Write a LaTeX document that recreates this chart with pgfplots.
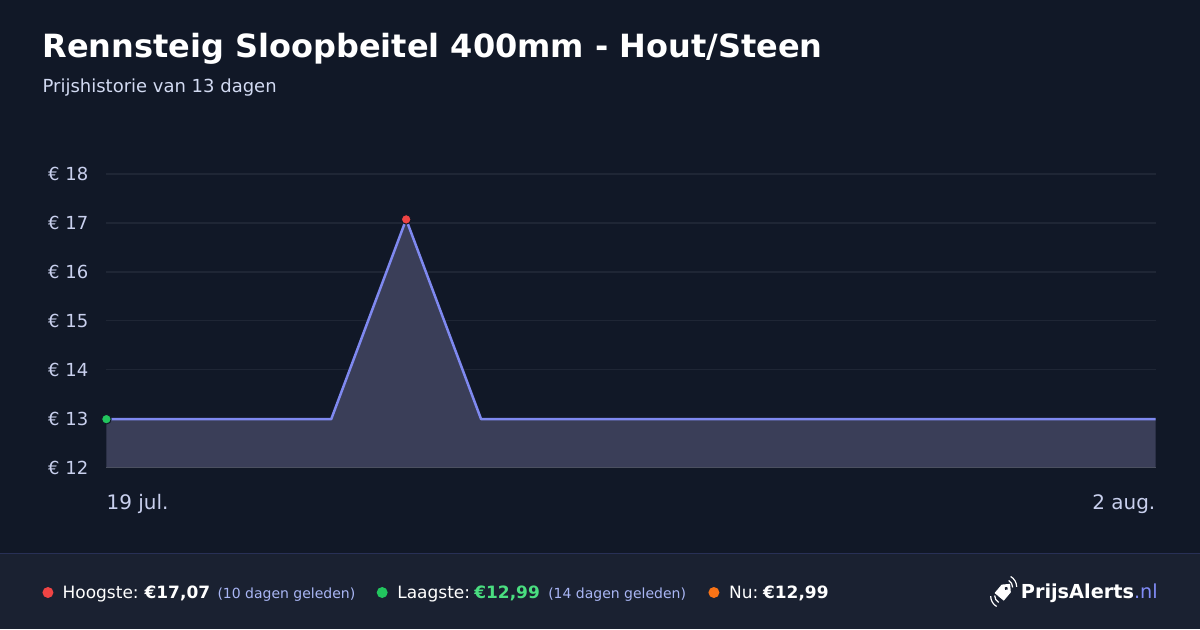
\documentclass[border=0pt]{standalone}
\usepackage{pgfplots}
\pgfplotsset{compat=1.18}
\usepackage{fontspec}
\setmainfont{DejaVu Sans}
\definecolor{bg}{HTML}{111827}
\definecolor{footbg}{HTML}{1A2131}
\definecolor{footline}{HTML}{283056}
\definecolor{gridc}{HTML}{1F2635}
\definecolor{axisc}{HTML}{4B5060}
\definecolor{linec}{HTML}{7F89F0}
\definecolor{fillc}{HTML}{3A3E58}
\definecolor{tickc}{HTML}{C9D0EE}
\definecolor{subc}{HTML}{D2DAF2}
\definecolor{mutedc}{HTML}{A9B6F5}
\definecolor{redc}{HTML}{EF4444}
\definecolor{greenc}{HTML}{22C55E}
\definecolor{greenv}{HTML}{4ADE80}
\definecolor{orangec}{HTML}{F97316}
\definecolor{nlc}{HTML}{818CF8}
\begin{document}
\begin{tikzpicture}[x=1pt,y=1pt]
\fill[bg] (0,0) rectangle (1200,630);
\fill[footbg] (0,0) rectangle (1200,76);
\draw[footline, line width=1pt] (0,76.5) -- (1200,76.5);
\node[anchor=base west, inner sep=0, text=white, font=\fontsize{32}{38}\selectfont\bfseries] at (42,572) {Rennsteig Sloopbeitel 400mm - Hout/Steen};
\node[anchor=base west, inner sep=0, text=subc, font=\fontsize{18}{22}\selectfont] at (42,537) {Prijshistorie van 13 dagen};
\begin{axis}[
  at={(106pt,162pt)}, anchor=south west,
  width=1050pt, height=294pt, scale only axis,
  xmin=0, xmax=14, ymin=12, ymax=18,
  clip=false,
  axis line style={draw=none},
  major tick length=0pt,
  ytick={12,13,14,15,16,17,18},
  yticklabels={€ 12,€ 13,€ 14,€ 15,€ 16,€ 17,€ 18},
  yticklabel style={anchor=east, inner sep=0pt, xshift=-18pt, text=tickc, font=\fontsize{18}{22}\selectfont},
  ymajorgrids, xmajorgrids=false,
  grid style={draw=gridc, line width=1.5pt},
  xtick={0}, xticklabels={19 jul.},
  xticklabel style={anchor=base west, inner sep=0pt, yshift=-42pt, text=tickc, font=\fontsize{20}{24}\selectfont},
  extra x ticks={14}, extra x tick labels={2 aug.},
  extra x tick style={grid=none, xticklabel style={anchor=base east}},
]
\addplot[fill=fillc, draw=none] coordinates {(0,12) (0,12.99) (1,12.99) (2,12.99) (3,12.99) (4,17.07) (5,12.99) (6,12.99) (7,12.99) (8,12.99) (9,12.99) (10,12.99) (11,12.99) (12,12.99) (13,12.99) (14,12.99) (14,12)} -- cycle;
\addplot[draw=axisc, line width=1.5pt] coordinates {(0,12) (14,12)};
\addplot[draw=linec, line width=2.5pt, line join=round] coordinates {(0,12.99) (1,12.99) (2,12.99) (3,12.99) (4,17.07) (5,12.99) (6,12.99) (7,12.99) (8,12.99) (9,12.99) (10,12.99) (11,12.99) (12,12.99) (13,12.99) (14,12.99)};
\addplot[only marks, mark=*, mark size=4.8pt, mark options={fill=greenc, draw=bg, line width=1pt}] coordinates {(0,12.99)};
\addplot[only marks, mark=*, mark size=4.8pt, mark options={fill=redc, draw=bg, line width=1pt}] coordinates {(4,17.07)};
\end{axis}
% footer
\fill[redc] (47.5,37) circle (5.5);
\node[anchor=base west, inner sep=0, text=white, font=\fontsize{17}{20}\selectfont] at (62,31) {Hoogste:};
\node[anchor=base west, inner sep=0, text=white, font=\fontsize{17}{20}\selectfont\bfseries] at (144,31) {€17,07};
\node[anchor=base west, inner sep=0, text=mutedc, font=\fontsize{14}{17}\selectfont] at (217,31) {(10 dagen geleden)};
\fill[greenc] (382,37) circle (5.5);
\node[anchor=base west, inner sep=0, text=white, font=\fontsize{17}{20}\selectfont] at (397,31) {Laagste:};
\node[anchor=base west, inner sep=0, text=greenv, font=\fontsize{17}{20}\selectfont\bfseries] at (474,31) {€12,99};
\node[anchor=base west, inner sep=0, text=mutedc, font=\fontsize{14}{17}\selectfont] at (548,31) {(14 dagen geleden)};
\fill[orangec] (714,37) circle (5.5);
\node[anchor=base west, inner sep=0, text=white, font=\fontsize{17}{20}\selectfont] at (729,31) {Nu:};
\node[anchor=base west, inner sep=0, text=white, font=\fontsize{17}{20}\selectfont\bfseries] at (763,31) {€12,99};
% logo
\begin{scope}[shift={(1004,38)}, rotate=-40]
\fill[white] (-6,-7) -- (6,-7) -- (6,4) -- (0,10) -- (-6,4) -- cycle;
\fill[footbg] (0,4) circle (1.8);
\end{scope}
\draw[white, line width=1.2pt] (1009,49) arc (60:0:8);
\draw[white, line width=1.2pt] (1011,53) arc (60:0:12);
\draw[white, line width=1.2pt] (999,27) arc (240:180:8);
\draw[white, line width=1.2pt] (997,23) arc (240:180:12);
\node[anchor=base west, inner sep=0, font=\fontsize{19.3}{23}\selectfont] at (1021,31) {\textcolor{white}{\bfseries PrijsAlerts}\textcolor{nlc}{.nl}};
\end{tikzpicture}
\end{document}
